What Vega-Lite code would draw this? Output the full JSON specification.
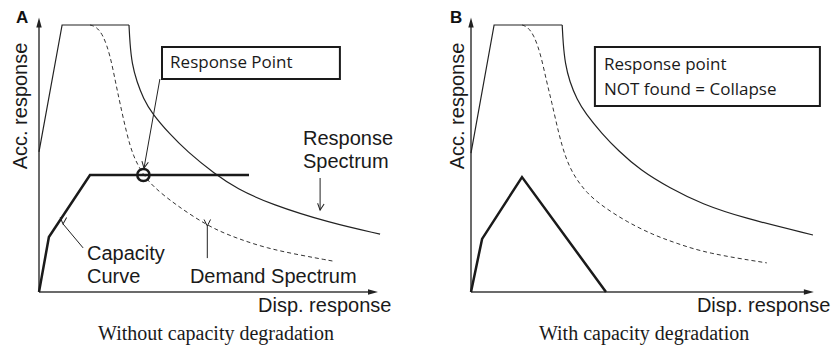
{
  "$schema": "https://vega.github.io/schema/vega-lite/v6.json",
  "padding": 0,
  "spacing": 0,
  "background": "white",
  "config": {
    "view": {"stroke": null},
    "font": "Liberation Sans"
  },
  "resolve": {"scale": {"x": "independent", "y": "independent", "shape": "independent", "angle": "independent"}},
  "datasets": {
    "curvesA": [
      {"curve": "plateau", "x": 0, "y": 4.67},
      {"curve": "plateau", "x": 0.77, "y": 8.9},
      {"curve": "plateau", "x": 3.0, "y": 8.9},
      {"curve": "response", "x": 3.0, "y": 8.9},
      {"curve": "response", "x": 3.03, "y": 8.3},
      {"curve": "response", "x": 3.1, "y": 7.6},
      {"curve": "response", "x": 3.26, "y": 7.01},
      {"curve": "response", "x": 3.48, "y": 6.45},
      {"curve": "response", "x": 3.76, "y": 5.96},
      {"curve": "response", "x": 4.37, "y": 5.25},
      {"curve": "response", "x": 4.92, "y": 4.7},
      {"curve": "response", "x": 5.87, "y": 3.92},
      {"curve": "response", "x": 6.59, "y": 3.45},
      {"curve": "response", "x": 7.7, "y": 2.93},
      {"curve": "response", "x": 9.7, "y": 2.3},
      {"curve": "response", "x": 11.37, "y": 1.93},
      {"curve": "demand", "x": 1.7, "y": 8.9},
      {"curve": "demand", "x": 1.9, "y": 8.85},
      {"curve": "demand", "x": 2.14, "y": 8.57},
      {"curve": "demand", "x": 2.37, "y": 7.9},
      {"curve": "demand", "x": 2.55, "y": 7.0},
      {"curve": "demand", "x": 2.7, "y": 6.29},
      {"curve": "demand", "x": 2.92, "y": 5.29},
      {"curve": "demand", "x": 3.14, "y": 4.51},
      {"curve": "demand", "x": 3.48, "y": 3.9},
      {"curve": "demand", "x": 3.81, "y": 3.51},
      {"curve": "demand", "x": 4.48, "y": 2.96},
      {"curve": "demand", "x": 5.64, "y": 2.18},
      {"curve": "demand", "x": 6.59, "y": 1.79},
      {"curve": "demand", "x": 7.59, "y": 1.46},
      {"curve": "demand", "x": 8.7, "y": 1.23},
      {"curve": "demand", "x": 9.8, "y": 1.03},
      {"curve": "capacity", "x": 0, "y": 0},
      {"curve": "capacity", "x": 0.33, "y": 1.83},
      {"curve": "capacity", "x": 1.7, "y": 3.9},
      {"curve": "capacity", "x": 7.0, "y": 3.9}
    ],
    "curvesB": [
      {"curve": "plateau", "x": 0, "y": 4.63},
      {"curve": "plateau", "x": 0.77, "y": 8.9},
      {"curve": "plateau", "x": 3.04, "y": 8.9},
      {"curve": "response", "x": 3.04, "y": 8.9},
      {"curve": "response", "x": 3.07, "y": 8.3},
      {"curve": "response", "x": 3.14, "y": 7.6},
      {"curve": "response", "x": 3.29, "y": 7.01},
      {"curve": "response", "x": 3.53, "y": 6.42},
      {"curve": "response", "x": 3.81, "y": 5.96},
      {"curve": "response", "x": 4.37, "y": 5.27},
      {"curve": "response", "x": 4.92, "y": 4.7},
      {"curve": "response", "x": 5.63, "y": 4.07},
      {"curve": "response", "x": 6.63, "y": 3.46},
      {"curve": "response", "x": 7.7, "y": 2.93},
      {"curve": "response", "x": 9.07, "y": 2.47},
      {"curve": "response", "x": 11.4, "y": 1.9},
      {"curve": "demand", "x": 1.7, "y": 8.9},
      {"curve": "demand", "x": 1.87, "y": 8.85},
      {"curve": "demand", "x": 2.1, "y": 8.57},
      {"curve": "demand", "x": 2.33, "y": 7.9},
      {"curve": "demand", "x": 2.52, "y": 7.01},
      {"curve": "demand", "x": 2.69, "y": 6.34},
      {"curve": "demand", "x": 2.92, "y": 5.29},
      {"curve": "demand", "x": 3.14, "y": 4.51},
      {"curve": "demand", "x": 3.41, "y": 3.9},
      {"curve": "demand", "x": 3.86, "y": 3.29},
      {"curve": "demand", "x": 4.41, "y": 2.84},
      {"curve": "demand", "x": 5.19, "y": 2.34},
      {"curve": "demand", "x": 6.08, "y": 1.9},
      {"curve": "demand", "x": 6.86, "y": 1.62},
      {"curve": "demand", "x": 7.86, "y": 1.29},
      {"curve": "demand", "x": 9.86, "y": 0.97},
      {"curve": "capacity", "x": 0, "y": 0},
      {"curve": "capacity", "x": 0.37, "y": 1.77},
      {"curve": "capacity", "x": 1.7, "y": 3.83},
      {"curve": "capacity", "x": 4.5, "y": 0}
    ],
    "axesA": [
      {"x": 0, "y": 0, "x2": 0, "y2": 8.83, "head": "up", "hx": 0, "hy": 9.15},
      {"x": 0, "y": 0, "x2": 10.97, "y2": 0, "head": "right", "hx": 11.3, "hy": 0}
    ],
    "axesB": [
      {"x": 0, "y": 0, "x2": 0, "y2": 8.83, "head": "up", "hx": 0, "hy": 9.15},
      {"x": 0, "y": 0, "x2": 11.1, "y2": 0, "head": "right", "hx": 11.43, "hy": 0}
    ],
    "pointersA": [
      {"pointer": "to response point", "x": 4.03, "y": 7.1, "x2": 3.5, "y2": 4.13},
      {"pointer": "to response spectrum", "x": 9.37, "y": 3.8, "x2": 9.37, "y2": 2.73},
      {"pointer": "to capacity curve", "x": 1.47, "y": 1.47, "x2": 0.8, "y2": 2.27},
      {"pointer": "to demand spectrum", "x": 5.61, "y": 1.13, "x2": 5.61, "y2": 2.2}
    ],
    "labelsA": [
      {"text": "Disp. response", "x": 7.3, "y": -0.67},
      {"text": "Response", "x": 8.8, "y": 4.9},
      {"text": "Spectrum", "x": 8.8, "y": 4.13},
      {"text": "Capacity", "x": 1.6, "y": 1.07},
      {"text": "Curve", "x": 1.6, "y": 0.3},
      {"text": "Demand Spectrum", "x": 5.03, "y": 0.3}
    ],
    "labelsB": [
      {"text": "Disp. response", "x": 7.53, "y": -0.67}
    ]
  },
  "hconcat": [
    {
      "width": 414,
      "height": 347,
      "encoding": {
        "x": {"field": "x", "type": "quantitative", "scale": {"domain": [-1.3, 12.5], "nice": false, "zero": false}, "axis": null},
        "y": {"field": "y", "type": "quantitative", "scale": {"domain": [-1.8333, 9.7333], "nice": false, "zero": false}, "axis": null}
      },
      "layer": [
        {
          "data": {"name": "axesA"},
          "mark": {"type": "rule", "stroke": "#3a3a3a", "strokeWidth": 1.5},
          "encoding": {"x2": {"field": "x2"}, "y2": {"field": "y2"}}
        },
        {
          "data": {"name": "axesA"},
          "mark": {"type": "point", "filled": true, "fill": "#222", "strokeWidth": 0, "size": 400, "opacity": 1},
          "encoding": {
            "x": {"field": "hx", "type": "quantitative"},
            "y": {"field": "hy", "type": "quantitative"},
            "shape": {"field": "head", "type": "nominal", "legend": null,
              "scale": {"domain": ["up", "right"], "range": ["M0,0L-0.27,1L0.27,1Z", "M0,0L-1,-0.27L-1,0.27Z"]}}
          }
        },
        {
          "data": {"name": "curvesA"},
          "transform": [{"filter": "datum.curve === 'plateau'"}],
          "mark": {"type": "line", "stroke": "#222", "strokeWidth": 1.2, "interpolate": "linear"}
        },
        {
          "data": {"name": "curvesA"},
          "transform": [{"filter": "datum.curve === 'response'"}],
          "mark": {"type": "line", "stroke": "#222", "strokeWidth": 1.2, "interpolate": "basis"}
        },
        {
          "data": {"name": "curvesA"},
          "transform": [{"filter": "datum.curve === 'demand'"}],
          "mark": {"type": "line", "stroke": "#333", "strokeWidth": 1, "strokeDash": [4, 3], "interpolate": "basis"}
        },
        {
          "data": {"name": "curvesA"},
          "transform": [{"filter": "datum.curve === 'capacity'"}],
          "mark": {"type": "line", "stroke": "#1a1a1a", "strokeWidth": 2.5, "interpolate": "linear"}
        },
        {
          "data": {"values": [{"x": 3.48, "y": 3.9}]},
          "mark": {"type": "point", "shape": "circle", "filled": false, "stroke": "#1a1a1a", "strokeWidth": 2.5, "size": 150, "opacity": 1}
        },
        {
          "data": {"values": [{"x": 4.1, "x2": 10.03, "y": 7.1, "y2": 8.17}]},
          "mark": {"type": "rect", "fill": "white", "stroke": "#1a1a1a", "strokeWidth": 2},
          "encoding": {"x2": {"field": "x2"}, "y2": {"field": "y2"}}
        },
        {
          "data": {"name": "pointersA"},
          "mark": {"type": "rule", "stroke": "#222", "strokeWidth": 1},
          "encoding": {"x2": {"field": "x2"}, "y2": {"field": "y2"}}
        },
        {
          "data": {"name": "pointersA"},
          "mark": {"type": "point", "filled": false, "stroke": "#222", "strokeWidth": 1, "size": 170, "opacity": 1,
            "shape": "M-0.5,1L0,0L0.5,1"},
          "encoding": {
            "x": {"field": "x2", "type": "quantitative"},
            "y": {"field": "y2", "type": "quantitative"},
            "angle": {"field": "pointer", "type": "nominal", "legend": null,
              "scale": {"domain": ["to response point", "to response spectrum", "to capacity curve", "to demand spectrum"], "range": [190, 180, 320, 0]}}
          }
        },
        {
          "data": {"name": "labelsA"},
          "mark": {"type": "text", "font": "Liberation Sans", "fontSize": 20, "align": "left", "baseline": "alphabetic", "fill": "#1a1a1a"},
          "encoding": {"text": {"field": "text"}}
        },
        {
          "data": {"values": [{"text": "Acc. response", "x": -0.4, "y": 6.2}]},
          "mark": {"type": "text", "font": "Liberation Sans", "fontSize": 20, "angle": 270, "align": "center", "baseline": "alphabetic", "fill": "#1a1a1a"},
          "encoding": {"text": {"field": "text"}}
        },
        {
          "data": {"values": [{"text": "A", "x": -0.77, "y": 8.97}]},
          "mark": {"type": "text", "font": "Liberation Sans", "fontSize": 17, "fontWeight": "bold", "align": "left", "baseline": "alphabetic", "fill": "#111"},
          "encoding": {"text": {"field": "text"}}
        },
        {
          "data": {"values": [{"text": "Response Point", "x": 4.37, "y": 7.47}]},
          "mark": {"type": "text", "font": "Open Sans", "fontSize": 17, "align": "left", "baseline": "alphabetic", "fill": "#1a1a1a"},
          "encoding": {"text": {"field": "text"}}
        },
        {
          "data": {"values": [{"text": "Without capacity degradation", "x": 5.9, "y": -1.6}]},
          "mark": {"type": "text", "font": "Liberation Serif", "fontSize": 20, "align": "center", "baseline": "alphabetic", "fill": "#1a1a1a"},
          "encoding": {"text": {"field": "text"}}
        }
      ]
    },
    {
      "width": 420,
      "height": 347,
      "encoding": {
        "x": {"field": "x", "type": "quantitative", "scale": {"domain": [-1.9, 12.1], "nice": false, "zero": false}, "axis": null},
        "y": {"field": "y", "type": "quantitative", "scale": {"domain": [-1.8333, 9.7333], "nice": false, "zero": false}, "axis": null}
      },
      "layer": [
        {
          "data": {"name": "axesB"},
          "mark": {"type": "rule", "stroke": "#3a3a3a", "strokeWidth": 1.5},
          "encoding": {"x2": {"field": "x2"}, "y2": {"field": "y2"}}
        },
        {
          "data": {"name": "axesB"},
          "mark": {"type": "point", "filled": true, "fill": "#222", "strokeWidth": 0, "size": 400, "opacity": 1},
          "encoding": {
            "x": {"field": "hx", "type": "quantitative"},
            "y": {"field": "hy", "type": "quantitative"},
            "shape": {"field": "head", "type": "nominal", "legend": null,
              "scale": {"domain": ["up", "right"], "range": ["M0,0L-0.27,1L0.27,1Z", "M0,0L-1,-0.27L-1,0.27Z"]}}
          }
        },
        {
          "data": {"name": "curvesB"},
          "transform": [{"filter": "datum.curve === 'plateau'"}],
          "mark": {"type": "line", "stroke": "#222", "strokeWidth": 1.2, "interpolate": "linear"}
        },
        {
          "data": {"name": "curvesB"},
          "transform": [{"filter": "datum.curve === 'response'"}],
          "mark": {"type": "line", "stroke": "#222", "strokeWidth": 1.2, "interpolate": "basis"}
        },
        {
          "data": {"name": "curvesB"},
          "transform": [{"filter": "datum.curve === 'demand'"}],
          "mark": {"type": "line", "stroke": "#333", "strokeWidth": 1, "strokeDash": [4, 3], "interpolate": "basis"}
        },
        {
          "data": {"name": "curvesB"},
          "transform": [{"filter": "datum.curve === 'capacity'"}],
          "mark": {"type": "line", "stroke": "#1a1a1a", "strokeWidth": 2.5, "interpolate": "linear"}
        },
        {
          "data": {"values": [{"x": 4.13, "x2": 11.63, "y": 6.2, "y2": 8.17}]},
          "mark": {"type": "rect", "fill": "white", "stroke": "#1a1a1a", "strokeWidth": 2},
          "encoding": {"x2": {"field": "x2"}, "y2": {"field": "y2"}}
        },
        {
          "data": {"name": "labelsB"},
          "mark": {"type": "text", "font": "Liberation Sans", "fontSize": 20, "align": "left", "baseline": "alphabetic", "fill": "#1a1a1a"},
          "encoding": {"text": {"field": "text"}}
        },
        {
          "data": {"values": [{"text": "Acc. response", "x": -0.23, "y": 6.2}]},
          "mark": {"type": "text", "font": "Liberation Sans", "fontSize": 20, "angle": 270, "align": "center", "baseline": "alphabetic", "fill": "#1a1a1a"},
          "encoding": {"text": {"field": "text"}}
        },
        {
          "data": {"values": [{"text": "B", "x": -0.7, "y": 8.97}]},
          "mark": {"type": "text", "font": "Liberation Sans", "fontSize": 17, "fontWeight": "bold", "align": "left", "baseline": "alphabetic", "fill": "#111"},
          "encoding": {"text": {"field": "text"}}
        },
        {
          "data": {"values": [
            {"text": "Response point", "x": 4.43, "y": 7.4},
            {"text": "NOT found = Collapse", "x": 4.43, "y": 6.57}
          ]},
          "mark": {"type": "text", "font": "Open Sans", "fontSize": 17, "align": "left", "baseline": "alphabetic", "fill": "#1a1a1a"},
          "encoding": {"text": {"field": "text"}}
        },
        {
          "data": {"values": [{"text": "With capacity degradation", "x": 5.77, "y": -1.6}]},
          "mark": {"type": "text", "font": "Liberation Serif", "fontSize": 20, "align": "center", "baseline": "alphabetic", "fill": "#1a1a1a"},
          "encoding": {"text": {"field": "text"}}
        }
      ]
    }
  ]
}
